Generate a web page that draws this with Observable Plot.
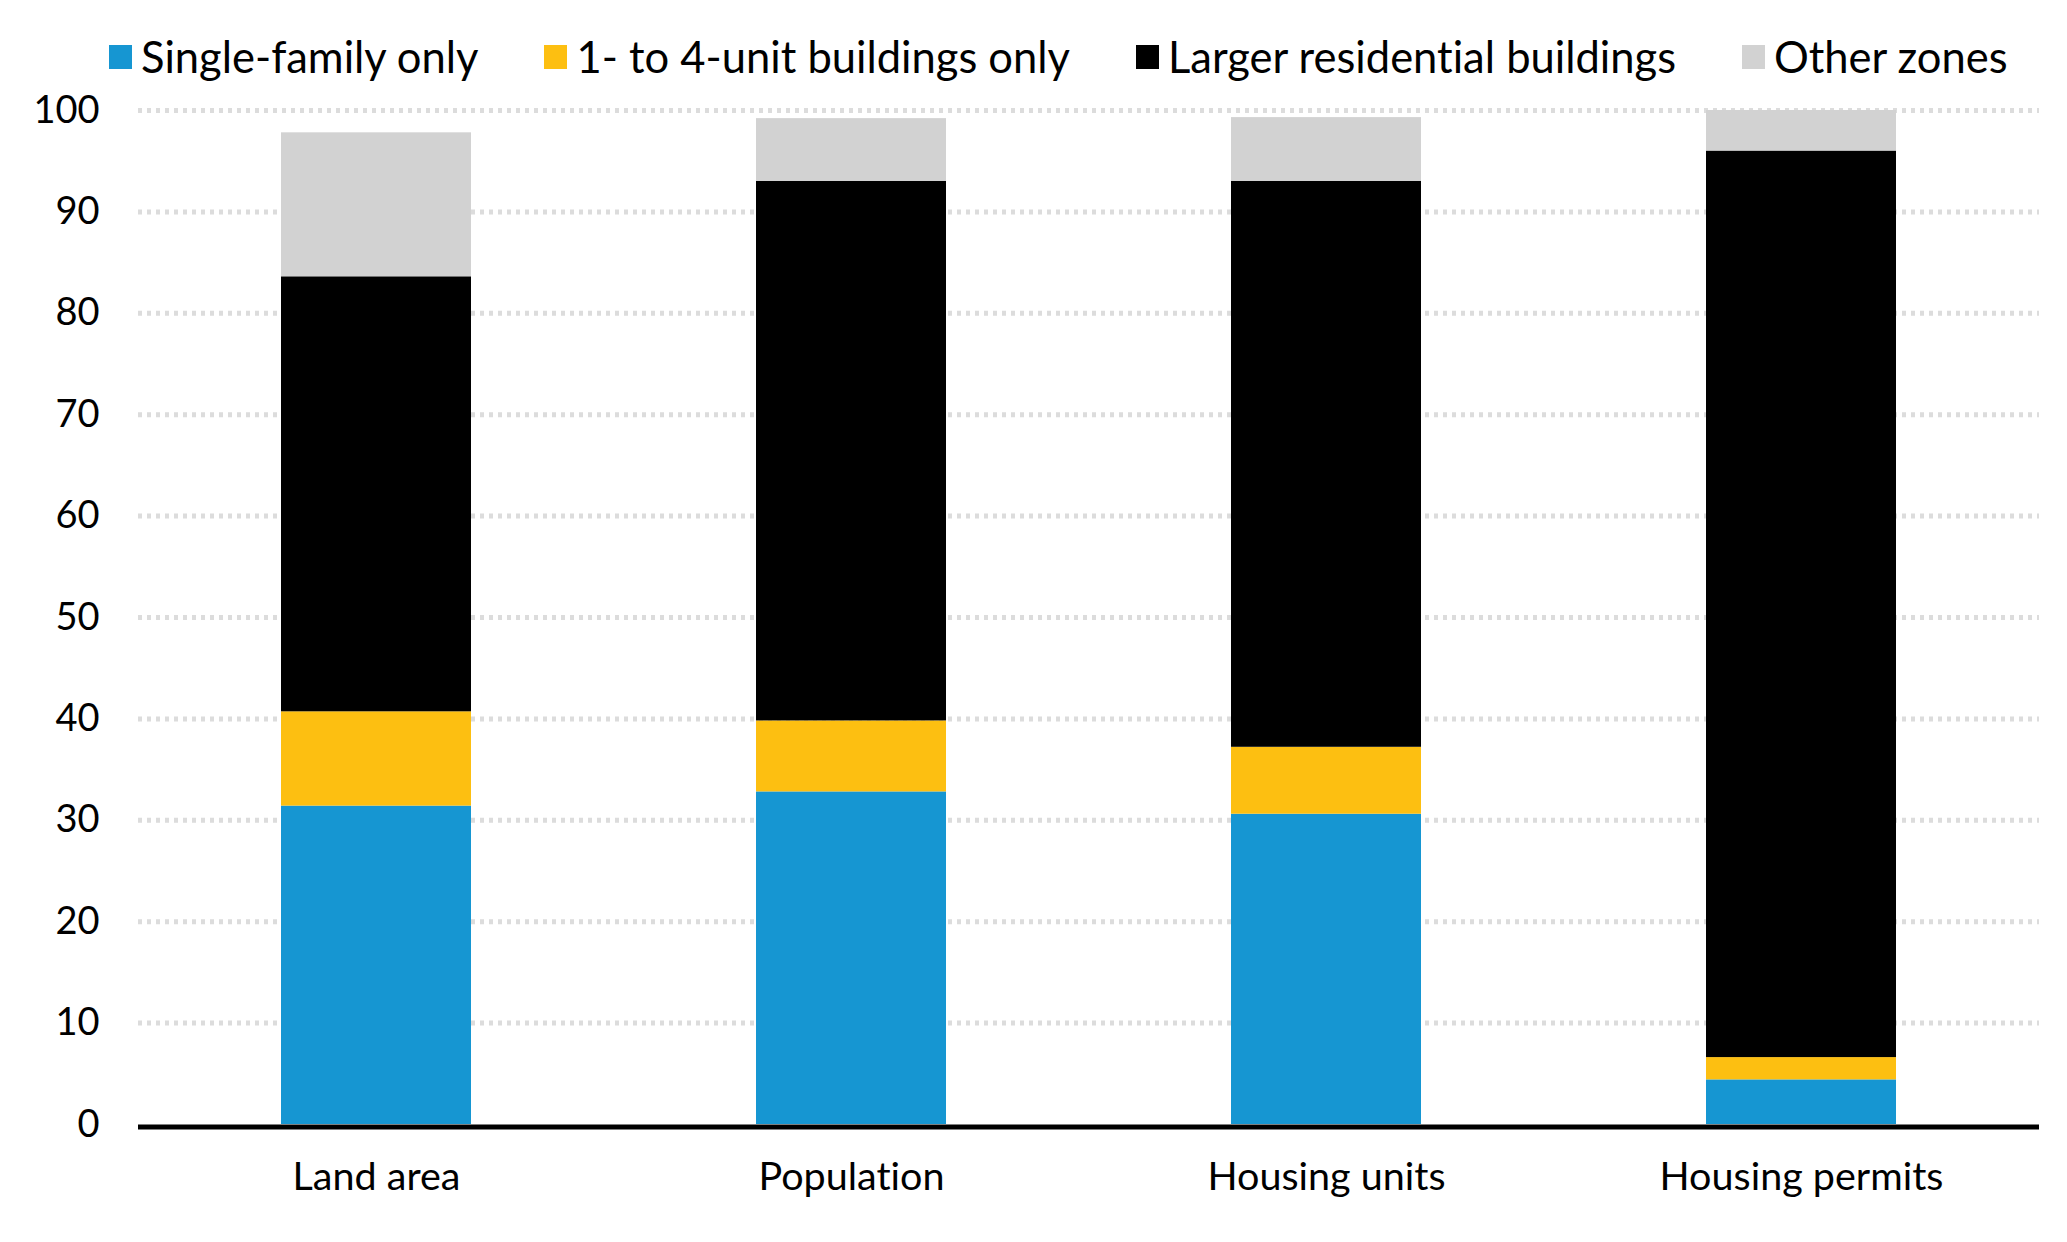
<!DOCTYPE html>
<html>
<head>
<meta charset="utf-8">
<script src="https://cdn.jsdelivr.net/npm/d3@7"></script>
<script src="https://cdn.jsdelivr.net/npm/@observablehq/plot@0.6"></script>
<style>
  html, body { margin: 0; padding: 0; background: #fff; }
  body { width: 2067px; height: 1242px; overflow: hidden; font-family: Lato, sans-serif; font-variant-ligatures: none; }
  #legend { height: 80px; box-sizing: border-box; padding-top: 32px; padding-left: 109px; display: flex; align-items: center; }
  .item { display: flex; align-items: center; height: 46px; margin-right: 66px; font-size: 43.5px; color: #000; white-space: nowrap; }
  .sw { width: 23px; height: 24px; margin-right: 9px; margin-top: 2px; }
  #chart svg { display: block; font-variant-ligatures: none; }
</style>
</head>
<body>
<div id="legend"></div>
<div id="chart"></div>
<script>
const categories = ["Land area", "Population", "Housing units", "Housing permits"];
const seriesNames = ["Single-family only", "1- to 4-unit buildings only", "Larger residential buildings", "Other zones"];
const singleFamily = [31.4, 32.8, 30.6, 4.4];
const oneToFour = [9.3, 7.0, 6.6, 2.2];
const larger = [42.9, 53.2, 55.8, 89.4];
const other = [14.2, 6.2, 6.3, 4.0];
const seriesColors = ["#1696d2", "#fdbf11", "#000000", "#d2d2d2"];
const yTicks = [0, 10, 20, 30, 40, 50, 60, 70, 80, 90, 100];

const seriesValues = [singleFamily, oneToFour, larger, other];
const rows = [];
seriesNames.forEach((s, si) => {
  categories.forEach((c, ci) => rows.push({category: c, series: s, value: seriesValues[si][ci]}));
});

const legend = document.getElementById("legend");
seriesNames.forEach((s, i) => {
  const it = document.createElement("div");
  it.className = "item";
  const sw = document.createElement("div");
  sw.className = "sw";
  sw.style.background = seriesColors[i];
  it.appendChild(sw);
  const t = document.createElement("span");
  t.textContent = s;
  it.appendChild(t);
  legend.appendChild(it);
});

const chart = Plot.plot({
  width: 2067,
  height: 1162,
  marginTop: 30,
  marginBottom: 118,
  marginLeft: 138,
  marginRight: 28,
  style: { fontFamily: "Lato, sans-serif", fontSize: "38px", color: "#000", background: "#fff" },
  x: { domain: categories, paddingInner: 0.6, paddingOuter: 0.3, label: null, tickSize: 0, tickPadding: 37 },
  y: { domain: [0, 100], ticks: yTicks, label: null, tickSize: 0, tickPadding: 39 },
  color: { domain: seriesNames, range: seriesColors },
  marks: [
    Plot.ruleY(yTicks.filter(d => d > 0), { stroke: "#dcdcdc", strokeWidth: 5, strokeDasharray: "4,5" }),
    Plot.barY(rows, { x: "category", y: "value", fill: "series", order: seriesNames }),
    Plot.ruleY([0], { stroke: "#000", strokeWidth: 5, dy: 2.5 }),
    Plot.axisX({ tickSize: 0, tickPadding: 37, fontSize: 39.5, label: null })
  ]
});
document.getElementById("chart").appendChild(chart);
</script>
</body>
</html>
